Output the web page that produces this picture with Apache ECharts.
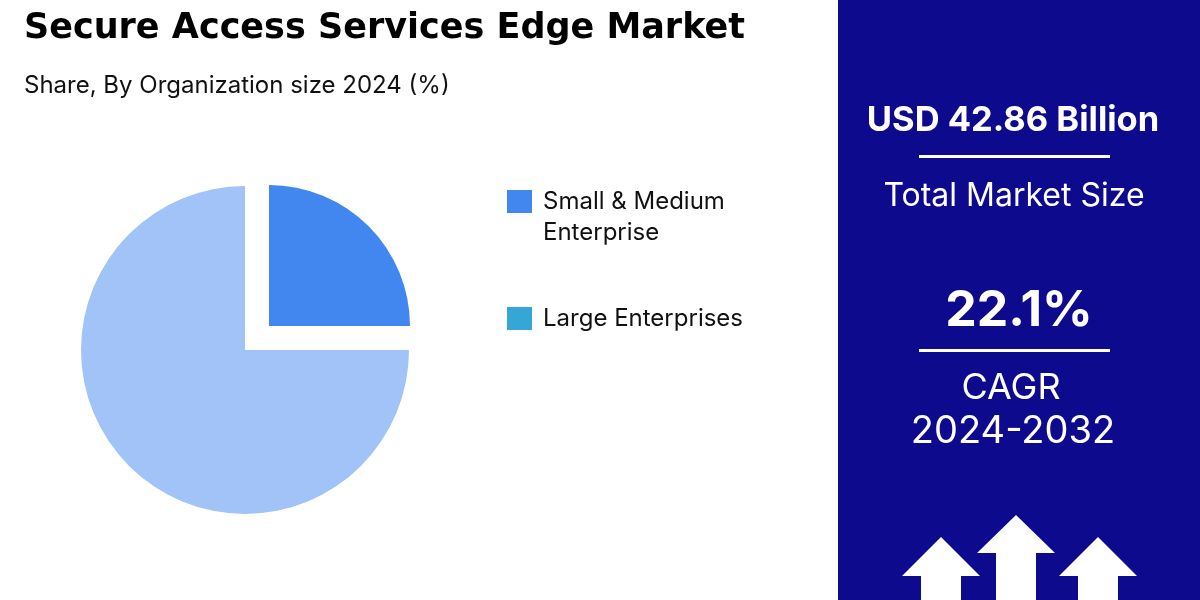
<!DOCTYPE html>
<html><head><meta charset="utf-8">
<script src="https://cdn.jsdelivr.net/npm/echarts@6/dist/echarts.min.js"></script>
<style>html,body{margin:0;padding:0;background:#fff}#c{width:1200px;height:600px}</style>
</head><body><div id="c"></div>
<script>
const categories = ['Small & Medium Enterprise', 'Large Enterprises'];
const shares = [25, 75];
const sliceColors = ['#4286f0', '#a1c3f7'];
const legendColors = ['#4286f0', '#35a6d6'];
const titleText = 'Secure Access Services Edge Market';
const subtitleText = 'Share, By Organization size 2024 (%)';
const marketSize = 'USD 42.86 Billion';
const marketLabel = 'Total Market Size';
const cagrValue = '22.1%';
const cagrLabel = 'CAGR';
const cagrPeriod = '2024-2032';

const chart = echarts.init(document.getElementById('c'));
const FONT = 'Inter';
const PANEL = '#0e0a8d';

function pieData(showIdx) {
  return categories.map((n, i) => ({
    name: n, value: shares[i],
    itemStyle: { color: i === showIdx ? sliceColors[i] : 'rgba(0,0,0,0)' }
  }));
}

function arrow(tipX, tipY, baseY, headHalf, shaftHalf) {
  return {
    type: 'polygon',
    shape: { points: [[tipX, tipY], [tipX + headHalf, baseY], [tipX + shaftHalf, baseY], [tipX + shaftHalf, 600], [tipX - shaftHalf, 600], [tipX - shaftHalf, baseY], [tipX - headHalf, baseY]] },
    style: { fill: '#ffffff' }
  };
}

chart.setOption({
  animation: false,
  backgroundColor: '#ffffff',
  title: [
    { text: titleText, left: 19, top: 6, textStyle: { fontFamily: 'DejaVu Sans', fontWeight: 'bold', fontSize: 35, color: '#000' } },
    { text: subtitleText, left: 19, top: 69, textStyle: { fontFamily: FONT, fontWeight: 'normal', fontSize: 24, color: '#111' } }
  ],
  legend: {
    orient: 'vertical',
    left: 502, top: 150,
    itemWidth: 25, itemHeight: 23, itemGap: 55,
    icon: 'rect',
    selectedMode: false,
    data: categories.map((n, i) => ({ name: n, itemStyle: { color: legendColors[i] } })),
    formatter: function (name) {
      return name === categories[0] ? '\nSmall & Medium\nEnterprise' : name;
    },
    textStyle: { fontFamily: FONT, fontSize: 24, color: '#111', lineHeight: 31, padding: [0, 0, 0, 6] }
  },
  series: [
    {
      type: 'pie', center: [245, 350], radius: 164, startAngle: 90, clockwise: true,
      label: { show: false }, labelLine: { show: false }, silent: true,
      emphasis: { disabled: true },
      data: pieData(1)
    },
    {
      type: 'pie', center: [269, 326], radius: 141, startAngle: 90, clockwise: true,
      label: { show: false }, labelLine: { show: false }, silent: true,
      emphasis: { disabled: true },
      data: pieData(0)
    }
  ],
  graphic: [
    { type: 'rect', z: -1, shape: { x: 838, y: 0, width: 362, height: 600 }, style: { fill: PANEL } },
    { type: 'text', x: 1013, y: 121, style: { text: marketSize, fill: '#fff', font: 'bold 34.5px Inter', textAlign: 'center', textVerticalAlign: 'middle' } },
    { type: 'rect', shape: { x: 919, y: 155, width: 191, height: 3 }, style: { fill: '#fff' } },
    { type: 'text', x: 1014, y: 196, style: { text: marketLabel, fill: '#fff', font: '32px Inter', textAlign: 'center', textVerticalAlign: 'middle' } },
    { type: 'text', x: 1019, y: 311, style: { text: cagrValue, fill: '#fff', font: 'bold 50px Inter', textAlign: 'center', textVerticalAlign: 'middle' } },
    { type: 'rect', shape: { x: 919, y: 349, width: 191, height: 3 }, style: { fill: '#fff' } },
    { type: 'text', x: 1011, y: 388, style: { text: cagrLabel, fill: '#fff', font: '36px Inter', textAlign: 'center', textVerticalAlign: 'middle' } },
    { type: 'text', x: 1013, y: 432, style: { text: cagrPeriod, fill: '#fff', font: '38px Inter', textAlign: 'center', textVerticalAlign: 'middle' } },
    arrow(941, 537, 576, 39, 20),
    arrow(1016, 515, 553, 39, 20),
    arrow(1098, 537, 576, 39, 20)
  ]
});
</script></body></html>
